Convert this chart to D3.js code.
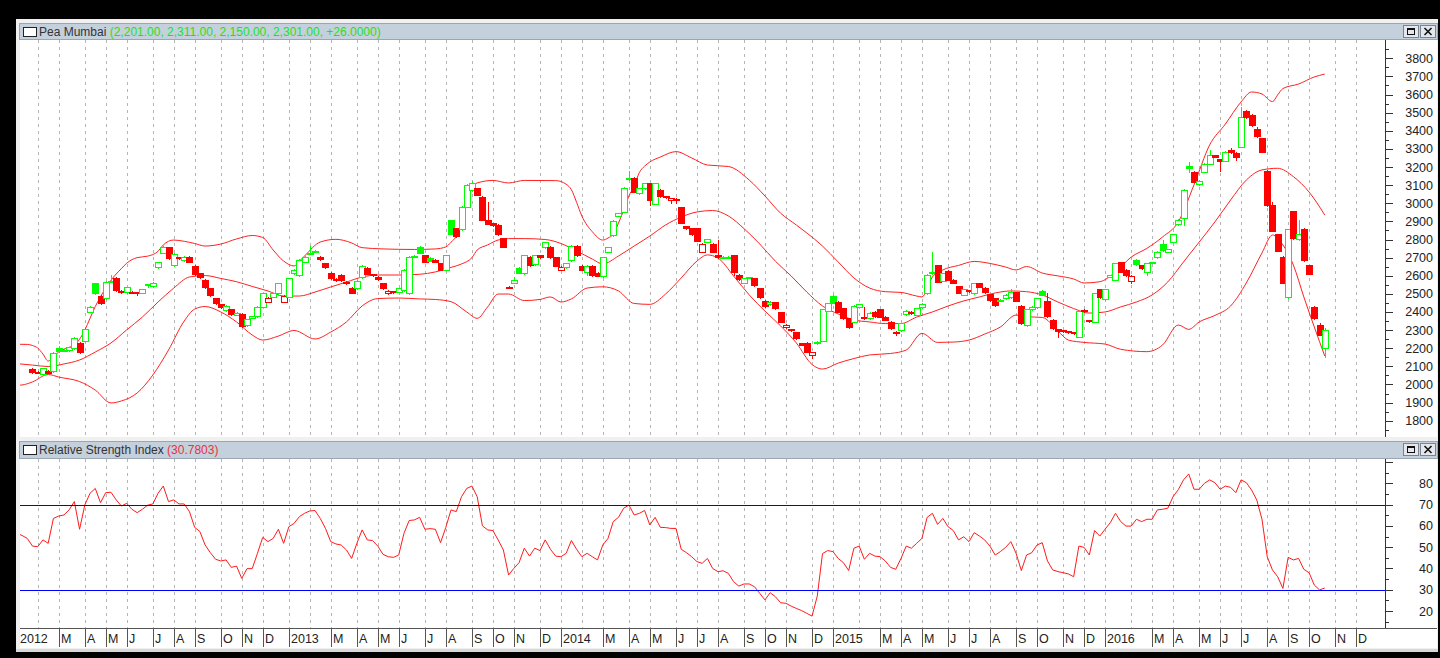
<!DOCTYPE html>
<html>
<head>
<meta charset="utf-8">
<script src="https://cdn.jsdelivr.net/npm/d3@7"></script>
<style>
  html, body { margin: 0; padding: 0; background: #000; overflow: hidden; }
  svg { display: block; }
  text { font-family: "Liberation Sans", Arial, sans-serif; }
</style>
</head>
<body>
<svg id="chart" width="1440" height="658"></svg>
<script>
// weekly bars, dated on the Saturday that closes the week
const firstBar = new Date(2012, 0, 28);
const seriesName = 'Pea Mumbai';
const rsiName = 'Relative Strength Index';

const opens = [
  2085,2070,2056,2076,2074,2201,2186,2190,2200,2229, 2242,2402,2558,2488,2477,2566,2589,2517,2511,2512,
  2508,2507,2550,2543,2647,2727,2757,2659,2702,2687, 2705,2654,2614,2577,2531,2476,2444,2411,2415,2386,
  2389,2327,2368,2378,2429,2457,2485,2503,2457,2484, 2613,2604,2678,2722,2734,2705,2669,2617,2582,2604,
  2567,2534,2531,2591,2644,2608,2595,2558,2503,2517, 2512,2521,2503,2708,2757,2714,2700,2687,2669,2632,
  2905,2861,2856,2981,3073,3083,3036,2908,2889,2880, 2807,2540,2562,2644,2613,2705,2665,2714,2757,2760,
  2702,2632,2647,2687,2766,2654,2622,2654,2617,2599, 2733,2825,2930,2953,3141,3141,3055,3083,3110,2998,
  3073,3040,3018,3016,2978,2874,2862,2862,2733,2788, 2775,2714,2700,2703,2714,2604,2562,2588,2586,2531,
  2462,2444,2453,2398,2315,2305,2288,2227,2230,2163, 2236,2242,2407,2488,2457,2420,2365,2346,2429,2374,
  2365,2402,2415,2374,2346,2291,2300,2389,2402,2383, 2426,2503,2622,2659,2573,2628,2577,2543,2494,2522,
  2503,2558,2534,2498,2475,2462,2475,2481,2509,2433, 2328,2415,2426,2518,2462,2356,2304,2300,2293,2290,
  2264,2412,2356,2346,2525,2470,2595,2577,2674,2632, 2573,2687,2659,2622,2670,2702,2775,2733,2788,2886,
  2917,3206,3174,3106,3174,3217,3266,3244,3235,3294, 3279,3312,3511,3487,3410,3359,3178,2990,2830,2705,
  2481,2957,2801,2858,2659,2429,2328,2201
];
const highs = [
  2090,2072,2092,2080,2178,2212,2195,2208,2262,2232, 2308,2432,2560,2492,2570,2604,2594,2519,2540,2514,
  2509,2528,2557,2563,2677,2762,2760,2723,2704,2708, 2708,2658,2616,2580,2533,2478,2446,2436,2418,2399,
  2392,2363,2380,2432,2507,2482,2506,2562,2491,2590, 2636,2690,2708,2762,2741,2708,2672,2620,2585,2607,
  2570,2537,2576,2659,2647,2611,2598,2561,2520,2518, 2533,2636,2708,2713,2762,2717,2703,2690,2672,2717,
  2910,2864,2985,3105,3122,3086,3040,3009,2891,2883, 2810,2542,2595,2647,2717,2708,2717,2717,2788,2763,
  2705,2653,2672,2769,2769,2657,2657,2657,2620,2705, 2760,2907,2948,3089,3178,3144,3086,3113,3113,3113,
  3076,3042,3031,3028,2981,2877,2865,2865,2778,2804, 2778,2797,2707,2708,2717,2607,2589,2594,2589,2534,
  2465,2459,2456,2401,2331,2307,2291,2229,2233,2180, 2239,2418,2451,2491,2460,2423,2368,2436,2445,2430,
  2399,2405,2418,2377,2349,2293,2340,2410,2405,2423, 2447,2607,2733,2662,2616,2631,2580,2546,2528,2524,
  2561,2561,2537,2501,2478,2470,2497,2525,2512,2436, 2418,2432,2479,2521,2503,2359,2306,2302,2295,2292,
  2410,2416,2358,2506,2528,2528,2606,2672,2677,2635, 2602,2690,2662,2672,2678,2736,2800,2749,2833,2911,
  3076,3228,3177,3128,3220,3294,3269,3247,3288,3305, 3282,3533,3514,3490,3420,3362,3181,3009,2833,2708,
  2859,2960,2908,2861,2662,2432,2340,2311
];
const lows = [
  2062,2064,2052,2062,2070,2180,2183,2186,2196,2175, 2238,2398,2500,2445,2470,2563,2515,2505,2506,2503,
  2495,2503,2540,2540,2644,2724,2690,2655,2694,2684, 2675,2606,2588,2532,2490,2445,2420,2408,2386,2383,
  2316,2324,2366,2374,2425,2455,2482,2500,2455,2481, 2610,2600,2675,2718,2732,2688,2640,2583,2570,2571,
  2555,2503,2528,2588,2607,2601,2577,2528,2500,2505, 2509,2518,2500,2706,2724,2675,2680,2676,2629,2629,
  2830,2815,2852,2978,3070,3043,2905,2883,2877,2827, 2757,2532,2559,2614,2610,2656,2662,2699,2754,2699,
  2652,2629,2644,2684,2711,2629,2605,2601,2597,2595, 2730,2822,2927,2950,3129,3061,3052,3080,2990,2995,
  3037,3029,3000,3000,2890,2859,2826,2790,2730,2785, 2730,2699,2698,2701,2604,2577,2559,2586,2546,2478,
  2430,2441,2417,2343,2312,2297,2252,2218,2178,2144, 2224,2239,2404,2448,2399,2362,2310,2343,2426,2362,
  2362,2375,2371,2353,2307,2272,2297,2386,2390,2380, 2423,2500,2610,2564,2570,2574,2559,2503,2491,2512,
  2500,2537,2505,2463,2435,2459,2472,2478,2459,2335, 2325,2412,2423,2491,2375,2307,2264,2290,2285,2278,
  2261,2401,2347,2343,2478,2467,2592,2574,2619,2601, 2560,2662,2638,2604,2668,2699,2739,2730,2785,2880,
  2880,3175,3116,3100,3171,3214,3254,3178,3232,3280, 3240,3309,3471,3429,3368,3282,2987,2846,2735,2559,
  2478,2804,2798,2684,2607,2362,2272,2150
];
const closes = [
  2069,2066,2089,2065,2175,2186,2192,2205,2255,2179, 2304,2429,2503,2448,2565,2572,2521,2508,2536,2506,
  2505,2525,2556,2562,2674,2757,2696,2720,2696,2705, 2678,2610,2591,2536,2494,2448,2428,2434,2389,2396,
  2320,2360,2376,2429,2503,2479,2503,2558,2488,2586, 2632,2687,2705,2728,2739,2691,2647,2586,2578,2574,
  2558,2506,2573,2655,2610,2604,2580,2531,2518,2514, 2530,2632,2705,2711,2727,2678,2683,2678,2632,2714,
  2833,2819,2981,3101,3110,3046,2908,2886,2880,2830, 2760,2535,2577,2617,2714,2659,2714,2702,2785,2702,
  2655,2650,2669,2766,2714,2632,2654,2604,2600,2702, 2757,2904,2945,3086,3132,3064,3083,3110,3018,3110,
  3040,3032,3029,3026,2893,2862,2829,2793,2775,2801, 2733,2702,2705,2706,2622,2580,2586,2592,2549,2481,
  2433,2456,2420,2346,2328,2300,2255,2220,2181,2177, 2227,2415,2448,2451,2402,2365,2319,2433,2442,2365,
  2396,2378,2374,2356,2310,2284,2337,2407,2393,2420, 2444,2604,2613,2567,2613,2577,2562,2506,2525,2515,
  2558,2540,2508,2466,2438,2467,2494,2509,2462,2338, 2415,2429,2476,2494,2378,2310,2297,2293,2288,2282,
  2407,2404,2350,2503,2481,2525,2604,2669,2622,2604, 2599,2665,2641,2669,2676,2733,2742,2746,2830,2908,
  3073,3193,3119,3125,3217,3266,3257,3235,3285,3283, 3254,3478,3474,3432,3371,3285,2990,2849,2738,2562,
  2856,2807,2830,2687,2610,2365,2275,2301
];

// Bollinger bands, read at sampled weeks (week 0 = firstBar)
const upperWeeks = [-3,-1,0,1,2,3,4,5,7,8,9,10,11,12,13,15,17,18,20,22,24,25,27,29,31,33,36,39,42,44,46,48,50,51,52,55,58,61,63,67,73,77,79,80,81,82,83,84,85,88,91,94,100,102,103,104,105,107,109,110,111,112,113,114,115,116,117,118,120,123,126,129,133,137,140,143,146,148,151,154,157,160,163,166,169,170,172,174,177,180,183,186,188,190,193,196,199,201,204,207,210,213,216,219,222,225,228,231,233,235,237,238,239,242,245,247];
const upperBand = [2222,2221,2215,2201,2168,2129,2152,2179,2205,2218,2250,2300,2365,2430,2484,2575,2640,2669,2700,2708,2735,2770,2797,2790,2778,2764,2775,2803,2822,2811,2742,2681,2654,2680,2709,2786,2801,2781,2755,2748,2745,2748,2759,2785,2819,2900,3018,3090,3112,3126,3112,3126,3125,3105,3075,3005,2930,2843,2797,2808,2830,2890,2963,3040,3095,3170,3205,3228,3255,3285,3250,3211,3203,3128,3040,2945,2880,2836,2764,2676,2588,2532,2512,2508,2488,2483,2593,2632,2657,2679,2668,2648,2632,2651,2615,2599,2582,2560,2567,2621,2703,2751,2814,2897,3101,3322,3437,3559,3614,3603,3561,3598,3633,3658,3697,3713];
const midWeeks = [-3,0,3,6,9,12,15,18,21,24,27,30,33,36,39,42,45,48,51,54,57,60,63,66,70,74,77,80,82,84,85,87,89,91,94,98,101,104,107,109,112,115,118,121,124,127,130,133,136,139,142,145,148,151,154,157,160,163,166,169,172,175,178,181,184,187,190,193,196,199,202,205,208,211,214,217,220,223,226,229,232,235,238,241,244,247];
const midBand = [2115,2107,2099,2113,2135,2179,2229,2301,2372,2455,2532,2593,2601,2585,2567,2541,2516,2488,2488,2510,2538,2565,2593,2604,2604,2608,2621,2646,2665,2700,2742,2770,2797,2805,2805,2800,2778,2737,2692,2665,2709,2764,2819,2880,2924,2952,2960,2930,2860,2775,2680,2599,2510,2433,2389,2356,2345,2336,2336,2372,2400,2433,2461,2483,2505,2516,2512,2494,2455,2419,2394,2400,2428,2455,2494,2566,2676,2786,2897,3018,3128,3184,3193,3147,3062,2935];
const lowerWeeks = [-3,-2,0,3,5,9,12,15,17,20,23,26,29,31,33,36,39,42,44,47,50,54,57,60,63,66,70,74,77,80,83,85,87,89,91,94,97,99,101,103,106,109,112,115,118,121,124,127,129,131,134,137,140,143,146,149,151,154,157,160,164,167,170,173,176,179,182,185,188,190,193,196,198,201,205,208,213,216,219,221,223,226,229,232,235,237,239,241,243,245,247];
const lowerBand = [1995,1997,2014,2055,2041,2016,1969,1898,1909,1953,2052,2190,2350,2416,2430,2400,2345,2273,2245,2267,2298,2251,2289,2345,2433,2474,2477,2472,2469,2457,2400,2365,2428,2499,2499,2463,2469,2483,2455,2472,2532,2539,2516,2447,2442,2499,2588,2681,2715,2698,2599,2494,2405,2323,2229,2110,2085,2118,2143,2163,2171,2190,2282,2232,2234,2245,2278,2317,2383,2374,2370,2295,2245,2232,2223,2194,2181,2218,2328,2304,2345,2381,2433,2560,2726,2825,2770,2659,2483,2317,2157];

// RSI, one value per week starting at week -3
const rsiFirstWeek = -3;
const rsiValues = [
  56.5,55.5,54.1,
  50.5,50.2,53.4,51.8,63.5,64.6,65.1,67.5,71.4,58.4, 69.8,75.3,77.6,70.9,75.6,75.8,72.2,69.3,70.6,67.8,
  66.2,67.8,69.7,70.3,75.3,78.7,71.4,72.2,70.3,70.3, 66.7,59.3,57.3,51.0,47.4,44.3,43.5,44.0,40.5,41.1,
  35.3,39.9,39.9,47.1,54.6,52.6,54.1,58.4,51.8,59.6, 61.2,64.3,65.9,67.0,67.2,63.5,58.8,52.6,51.5,51.0,
  48.7,44.7,51.8,58.1,53.4,53.1,50.5,46.6,45.5,45.2, 46.3,56.5,62.5,62.8,64.0,58.4,58.7,58.4,52.1,59.3,
  67.5,66.7,73.7,77.6,78.7,73.7,60.0,58.1,57.8,53.4, 48.7,36.9,40.0,42.7,49.5,45.8,49.5,48.4,53.4,49.0,
  45.8,45.5,47.1,53.1,49.0,45.5,47.1,45.5,44.0,51.0, 54.1,62.0,64.0,68.3,69.8,65.1,65.9,67.2,60.4,64.0,
  59.3,59.2,58.8,58.8,49.0,47.4,45.5,43.2,42.4,44.7, 40.0,38.5,38.9,37.7,33.8,31.7,32.7,32.7,31.4,28.3,
  25.2,28.6,26.7,23.9,23.6,22.3,21.2,20.2,18.9,17.6, 27.0,47.0,48.4,47.9,44.7,42.7,39.0,49.5,50.5,44.3,
  47.1,45.8,45.5,43.5,40.5,39.6,44.7,50.5,49.5,51.8, 54.1,64.0,65.9,60.7,63.5,59.6,57.8,53.4,54.9,52.6,
  56.8,55.2,53.4,50.5,46.3,47.9,49.9,52.6,47.1,39.0, 46.3,47.4,51.0,52.1,43.5,39.3,38.5,38.0,37.4,36.1,
  50.5,49.9,46.3,57.8,55.2,58.4,61.5,65.9,62.0,59.9, 59.9,63.1,62.0,63.1,63.1,67.5,67.8,68.3,73.7,77.0,
  81.6,84.4,77.2,77.2,80.0,81.6,80.3,77.2,78.7,78.1, 75.6,81.6,80.3,76.9,72.2,63.1,45.5,39.3,36.1,30.6,
  45.2,44.0,44.7,39.6,38.0,32.2,29.9,30.7803
];
const rsiLevels = [70, 30];

const priceTicks = d3.range(1800, 3801, 100);
const rsiTicks = [20, 30, 40, 50, 60, 70, 80];
const monthLetters = ['J','F','M','A','M','J','J','A','S','O','N','D'];

// ---------------------------------------------------------------
const plotLeft = 20, plotRight = 1385;
const mainTop = 40, mainBottom = 437;
const rsiTop = 459, rsiBottom = 628;

const svg = d3.select('#chart');

const x = d3.scaleTime()
  .domain([new Date(2012, 0, 11, 7), new Date(2017, 0, 10, 14)])
  .range([plotLeft, plotRight]);
const yPrice = d3.scaleLinear().domain([1800, 3800]).range([420.7, 58.3]);
const yRsi = d3.scaleLinear().domain([20, 80]).range([611, 483.3]);

const weekDate = w => d3.timeDay.offset(firstBar, 7 * w);
const xw = w => x(weekDate(w));
const bars = d3.timeSaturday.range(firstBar, weekDate(opens.length));

// window chrome
svg.append('rect').attr('x', 16).attr('y', 19).attr('width', 1422).attr('height', 632).attr('fill', '#f0f0f0');

function titleBar(y0, h, label, value, valueColor) {
  const g = svg.append('g');
  g.append('rect').attr('x', 19).attr('y', y0).attr('width', 1418).attr('height', h)
    .attr('fill', '#c4d0dc').attr('stroke', '#9aa6b2').attr('shape-rendering', 'crispEdges');
  g.append('rect').attr('x', 23.5).attr('y', y0 + 4.5).attr('width', 13).attr('height', 9)
    .attr('fill', '#fff').attr('stroke', '#222');
  const t = g.append('text').attr('x', 39).attr('y', y0 + 12.5)
    .attr('font-size', 12).attr('fill', '#333');
  t.append('tspan').text(label + ' ');
  t.append('tspan').attr('fill', valueColor).text('(' + value + ')');
  // restore / close buttons
  [1403, 1420].forEach((bx, i) => {
    g.append('rect').attr('x', bx + 0.5).attr('y', y0 + 2.5).attr('width', 15).attr('height', 12)
      .attr('fill', '#e4e8ee').attr('stroke', '#7a8490');
    if (i === 0) {
      g.append('rect').attr('x', bx + 4.5).attr('y', y0 + 5.5).attr('width', 7).attr('height', 6)
        .attr('fill', 'none').attr('stroke', '#111').attr('stroke-width', 1);
      g.append('line').attr('x1', bx + 4.5).attr('x2', bx + 11.5).attr('y1', y0 + 6.5).attr('y2', y0 + 6.5)
        .attr('stroke', '#111');
    } else {
      g.append('path').attr('d', `M${bx + 4.5},${y0 + 5}L${bx + 11.5},${y0 + 12}M${bx + 11.5},${y0 + 5}L${bx + 4.5},${y0 + 12}`)
        .attr('stroke', '#111').attr('stroke-width', 1.6);
    }
  });
}

const last = opens.length - 1;
const fmt = d3.format(',.2f');
titleBar(23, 16, seriesName,
  [opens[last], highs[last], lows[last], closes[last]].map(fmt).join(', ') + ', ' +
  d3.format('+.4f')(closes[last] - closes[last - 1]), '#1ee01e');
titleBar(441, 17, rsiName, d3.format('.4f')(rsiValues[rsiValues.length - 1]), '#e8323c');

// plot backgrounds
svg.append('rect').attr('x', plotLeft).attr('y', mainTop).attr('width', 1417).attr('height', mainBottom - mainTop).attr('fill', '#fff');
svg.append('rect').attr('x', plotLeft).attr('y', rsiTop).attr('width', 1417).attr('height', rsiBottom - rsiTop).attr('fill', '#fff');
svg.append('rect').attr('x', plotLeft).attr('y', rsiBottom).attr('width', 1417).attr('height', 20).attr('fill', '#fff');

// clip paths
const defs = svg.append('defs');
defs.append('clipPath').attr('id', 'clipMain').append('rect')
  .attr('x', plotLeft).attr('y', mainTop).attr('width', plotRight - plotLeft).attr('height', mainBottom - mainTop);
defs.append('clipPath').attr('id', 'clipRsi').append('rect')
  .attr('x', plotLeft).attr('y', rsiTop).attr('width', plotRight - plotLeft).attr('height', rsiBottom - rsiTop);

// month gridlines / ticks
const months = d3.timeMonth.range(new Date(2012, 0, 1), new Date(2017, 0, 1))
  .map(m => ({ month: m, bar: d3.timeSaturday.ceil(m) }))
  .filter(d => x(d.bar) >= plotLeft && x(d.bar) <= plotRight);

[[mainTop, mainBottom], [rsiTop, rsiBottom]].forEach(([t, b]) => {
  svg.append('g').selectAll('line').data(months).join('line')
    .attr('x1', d => Math.round(x(d.bar)) + 0.5).attr('x2', d => Math.round(x(d.bar)) + 0.5)
    .attr('y1', t).attr('y2', b)
    .attr('stroke', '#b4b4b4').attr('stroke-dasharray', '3,4');
});

// Bollinger bands
const bandLine = d3.line().x(d => xw(d[0])).y(d => yPrice(d[1])).curve(d3.curveMonotoneX);
const mainG = svg.append('g').attr('clip-path', 'url(#clipMain)');
[[upperWeeks, upperBand], [midWeeks, midBand], [lowerWeeks, lowerBand]].forEach(([wk, vals]) => {
  mainG.append('path').datum(wk.map((w, i) => [w, vals[i]]))
    .attr('d', bandLine).attr('fill', 'none').attr('stroke', '#ff2020').attr('stroke-width', 1);
});

// candles: green/red = close vs previous close, hollow = close above open
const candles = bars.map((d, i) => ({
  date: d, o: opens[i], h: highs[i], l: lows[i], c: closes[i],
  up: i === 0 ? closes[i] >= opens[i] : closes[i] >= closes[i - 1]
}));
const cg = mainG.append('g').attr('shape-rendering', 'crispEdges');
const cx = d => Math.round(x(d.date));
cg.selectAll('line.wick').data(candles).join('line').attr('class', 'wick')
  .attr('x1', d => cx(d) + 0.5).attr('x2', d => cx(d) + 0.5)
  .attr('y1', d => Math.round(yPrice(d.h))).attr('y2', d => Math.round(yPrice(d.l)) + 1)
  .attr('stroke', d => d.up ? '#00ff00' : '#ff0000');
cg.selectAll('rect.body').data(candles).join('rect').attr('class', 'body')
  .each(function (d) {
    const top = Math.round(yPrice(Math.max(d.o, d.c)));
    const bot = Math.max(top + 1, Math.round(yPrice(Math.min(d.o, d.c))));
    const col = d.up ? '#00ff00' : '#ff0000';
    const r = d3.select(this);
    if (d.c > d.o) {
      r.attr('x', cx(d) - 2.5).attr('y', top + 0.5).attr('width', 6).attr('height', Math.max(1, bot - top))
        .attr('fill', '#fff').attr('stroke', col);
    } else {
      r.attr('x', cx(d) - 3).attr('y', top).attr('width', 7).attr('height', Math.max(2, bot - top + 1))
        .attr('fill', col);
    }
  });

// price axis
const priceAxis = svg.append('g').attr('transform', `translate(${plotRight},0)`);
priceAxis.append('line').attr('x1', 0.5).attr('x2', 0.5).attr('y1', mainTop).attr('y2', mainBottom).attr('stroke', '#333');
priceAxis.append('g').call(d3.axisRight(yPrice).tickValues(d3.range(1750, 3900, 50)).tickSize(4).tickFormat(''))
  .call(g => g.select('.domain').remove());
priceAxis.append('g').call(d3.axisRight(yPrice).tickValues(priceTicks).tickSize(8).tickFormat(d3.format('d')))
  .call(g => g.select('.domain').remove())
  .call(g => g.selectAll('text').attr('x', 48).attr('text-anchor', 'end')
    .attr('font-size', 12.5).attr('fill', '#222').attr('font-family', '"Liberation Sans", Arial, sans-serif'));
priceAxis.selectAll('.tick line').attr('stroke', '#333').attr('shape-rendering', 'crispEdges');

// RSI panel
const rsiG = svg.append('g').attr('clip-path', 'url(#clipRsi)');
rsiG.append('path')
  .datum(rsiValues.map((v, i) => [rsiFirstWeek + i, v]))
  .attr('d', d3.line().x(d => xw(d[0])).y(d => yRsi(d[1])))
  .attr('fill', 'none').attr('stroke', '#ff1a1a').attr('stroke-width', 1);
rsiG.append('path')
  .attr('d', rsiLevels.map(v => `M${plotLeft},${Math.round(yRsi(v)) + 0.5}H${plotRight}`).join(''))
  .attr('fill', 'none').attr('stroke', '#0000ff').attr('stroke-width', 1);

const rsiAxis = svg.append('g').attr('transform', `translate(${plotRight},0)`);
rsiAxis.append('line').attr('x1', 0.5).attr('x2', 0.5).attr('y1', rsiTop).attr('y2', rsiBottom).attr('stroke', '#333');
rsiAxis.append('g').call(d3.axisRight(yRsi).tickValues(d3.range(15, 90, 10)).tickSize(4).tickFormat(''))
  .call(g => g.select('.domain').remove());
rsiAxis.append('g').call(d3.axisRight(yRsi).tickValues(d3.range(20, 91, 10)).tickSize(8)
    .tickFormat(d => rsiTicks.includes(d) ? d : ''))
  .call(g => g.select('.domain').remove())
  .call(g => g.selectAll('text').attr('x', 48).attr('text-anchor', 'end')
    .attr('font-size', 12.5).attr('fill', '#222').attr('font-family', '"Liberation Sans", Arial, sans-serif'));
rsiAxis.selectAll('.tick line').attr('stroke', '#333').attr('shape-rendering', 'crispEdges');

// time axis strip
const xa = svg.append('g');
xa.append('line').attr('x1', plotLeft).attr('x2', 1437).attr('y1', rsiBottom + 0.5).attr('y2', rsiBottom + 0.5).attr('stroke', '#555');
const labelled = months.filter(d => d.month.getMonth() !== 1);
xa.selectAll('line.sep').data(labelled).join('line').attr('class', 'sep')
  .attr('x1', d => Math.round(x(d.bar)) + 0.5).attr('x2', d => Math.round(x(d.bar)) + 0.5)
  .attr('y1', rsiBottom).attr('y2', rsiBottom + 19).attr('stroke', '#555');
const firstLabel = { month: new Date(2012, 0, 1), bar: new Date(2012, 0, 7) };
xa.selectAll('text').data([firstLabel].concat(labelled)).join('text')
  .attr('x', d => Math.max(plotLeft, Math.round(x(d.bar)) + 2))
  .attr('y', rsiBottom + 15)
  .attr('font-size', 12.5).attr('fill', '#222')
  .text(d => d.month.getMonth() === 0 ? d3.timeFormat('%Y')(d.month) : monthLetters[d.month.getMonth()]);

// bottom edge
svg.append('rect').attr('x', 16).attr('y', 649).attr('width', 1422).attr('height', 3).attr('fill', '#d8d8d8');
</script>
</body>
</html>
